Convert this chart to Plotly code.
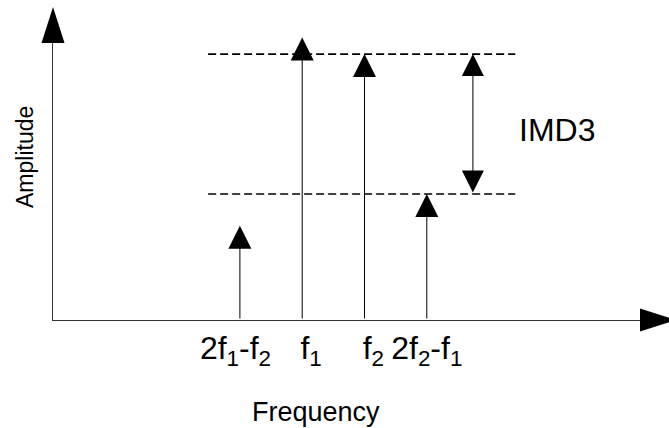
import plotly.graph_objects as go

# Tone spectrum (arbitrary units)
tone_labels = ["2f<sub>1</sub>-f<sub>2</sub>\u00a0", "\u00a0\u00a0f<sub>1</sub>",
	"\u00a0\u00a0f<sub>2</sub>", "2f<sub>2</sub>-f<sub>1</sub>"]
tone_freq = [3.0, 4.0, 5.0, 6.0]
tone_amp = [0.34, 1.02, 0.96, 0.455]

# reference levels for the IMD3 marker
fund_level = 0.96
imd_level = 0.455
ref_span = [2.49, 7.42]
imd_x = 6.74

W, H = 669, 428
M = dict(l=53, r=29, t=43, b=108)
PW, PH = W - M['l'] - M['r'], H - M['t'] - M['b']
FONT = "Liberation Sans, Arial, sans-serif"

def px_x(p):   # pixel offset -> paper units (x)
	return p / PW

def px_y(p):
	return p / PH

fig = go.Figure()

#Dashed reference lines
for lvl in [fund_level, imd_level]:
	fig.add_trace(go.Scatter(x=ref_span, y=[lvl, lvl], mode='lines',
		line=dict(color='black', width=1.6, dash='8px,4px'), hoverinfo='skip'))

#Tone arrows
for f, a in zip(tone_freq, tone_amp):
	fig.add_annotation(x=f, y=a, ax=f, ay=0, xref='x', yref='y', axref='x', ayref='y',
		text='', showarrow=True, arrowhead=2, arrowsize=4.6, arrowwidth=1,
		arrowcolor='black', standoff=0)

#IMD3 double arrow
fig.add_annotation(x=imd_x, y=fund_level, ax=imd_x, ay=imd_level,
	xref='x', yref='y', axref='x', ayref='y', text='', showarrow=True,
	arrowside='end+start', arrowhead=2, startarrowhead=2,
	arrowsize=4.4, startarrowsize=4.4, arrowwidth=1, arrowcolor='black',
	standoff=0, startstandoff=0)

fig.add_annotation(x=8.09, y=0.686, xref='x', yref='y', text='IMD3', showarrow=False,
	xanchor='center', yanchor='middle',
	font=dict(family=FONT, size=32, color='black'))

#Axis titles
fig.add_annotation(x=px_x(316 - M['l']), y=-px_y(412 - (H - M['b'])), xref='paper', yref='paper',
	xanchor='center', yanchor='middle',
	text='Frequency', showarrow=False, font=dict(family=FONT, size=27, color='black'))
fig.add_annotation(x=-px_x(28), y=px_y(H - M['b'] - 157), xref='paper', yref='paper',
	xanchor='center', yanchor='middle',
	text='Amplitude', textangle=-90, showarrow=False,
	font=dict(family=FONT, size=23, color='black'))

#Axis arrowheads
hl, hw = 36, 11.5
fig.add_shape(type='path', xref='paper', yref='paper', line_width=0, fillcolor='black',
	path=f'M {-px_x(hw)} 1 L {px_x(hw)} 1 L 0 {1 + px_y(hl)} Z')
fig.add_shape(type='path', xref='paper', yref='paper', line_width=0, fillcolor='black',
	path=f'M 1 {-px_y(hw)} L 1 {px_y(hw)} L {1 + px_x(hl)} 0 Z')

fig.update_xaxes(range=[0, PW / 62.3], showline=True, linecolor='#333', linewidth=1,
	showgrid=False, zeroline=False, ticks='', tickvals=tone_freq, ticktext=tone_labels,
	tickfont=dict(family=FONT, size=32, color='black'), fixedrange=True)
fig.update_yaxes(range=[0, 1], showline=True, linecolor='#333', linewidth=1,
	showgrid=False, zeroline=False, showticklabels=False, ticks='', fixedrange=True)

fig.update_layout(width=W, height=H, margin=M, showlegend=False,
	plot_bgcolor='white', paper_bgcolor='white')

fig.write_html("out.html", config={'displayModeBar': False},
	post_script="document.body.style.margin='0';document.body.style.overflow='hidden';")
